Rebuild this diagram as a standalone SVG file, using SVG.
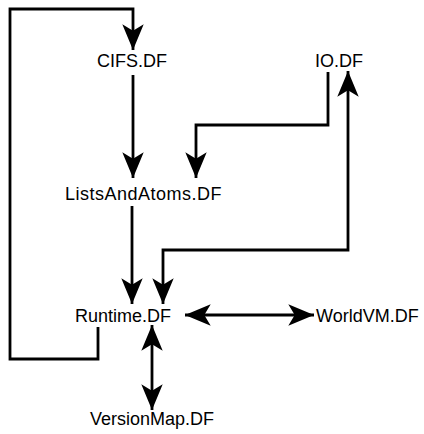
<svg xmlns="http://www.w3.org/2000/svg" width="424" height="434" viewBox="0 0 424 434">
<style>
.lbl{font-family:"Liberation Sans",Arial,sans-serif;font-size:18px;fill:#000}
.ln{fill:none;stroke:#000;stroke-width:2.8;stroke-linejoin:miter}
</style>
<defs>
<marker id="ah" markerUnits="userSpaceOnUse" markerWidth="30" markerHeight="24" viewBox="-2 -11 28 22" refX="24" refY="0" orient="auto-start-reverse">
<path d="M0,-10 L24,0 L0,10 L6,0 z" fill="#000"/>
</marker>
</defs>
<rect width="424" height="434" fill="#fff"/>
<g id="connectors">
<path class="ln" d="M98,327 V359 H10 V9 H133 V50" marker-end="url(#ah)"/>
<path class="ln" d="M133,75 V178" marker-end="url(#ah)"/>
<path class="ln" d="M328,72 V125 H196 V178" marker-end="url(#ah)"/>
<path class="ln" d="M132,206 V304" marker-end="url(#ah)"/>
<path class="ln" d="M163,304 V250 H348 V71" marker-start="url(#ah)" marker-end="url(#ah)"/>
<path class="ln" d="M185,315 H314" marker-start="url(#ah)" marker-end="url(#ah)"/>
<path class="ln" d="M152,325 V410" marker-start="url(#ah)" marker-end="url(#ah)"/>
</g>
<g id="cifs"><text class="lbl" x="132" y="67" text-anchor="middle">CIFS.DF</text></g>
<g id="io"><text class="lbl" x="339" y="67" text-anchor="middle">IO.DF</text></g>
<g id="lists"><text class="lbl" x="65" y="200" letter-spacing="0.5">ListsAndAtoms.DF</text></g>
<g id="runtime"><text class="lbl" x="75" y="322">Runtime.DF</text></g>
<g id="worldvm"><text class="lbl" x="316" y="322">WorldVM.DF</text></g>
<g id="versionmap"><text class="lbl" x="152" y="425" text-anchor="middle">VersionMap.DF</text></g>
</svg>
